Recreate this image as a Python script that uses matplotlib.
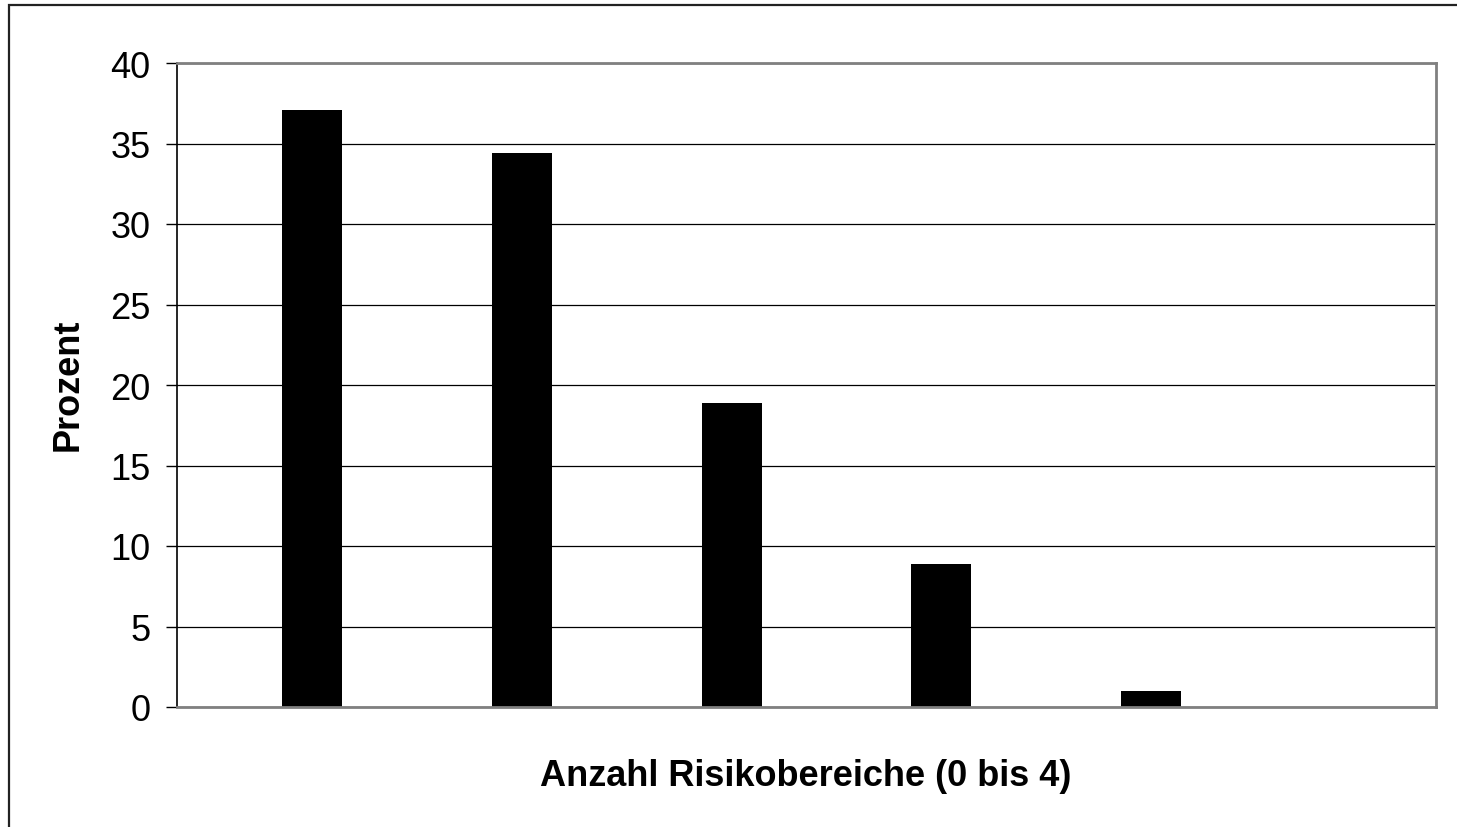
import matplotlib
matplotlib.use('Agg')
import matplotlib.pyplot as plt
from matplotlib.patches import Rectangle

plt.rcParams['font.family'] = ['Liberation Sans', 'DejaVu Sans']

# Anzahl Risikobereiche 0..4 (6th slot empty, as in the original)
categories = [0, 1, 2, 3, 4]
values = [37.1, 34.4, 18.9, 8.9, 1.0]
yticks = [0, 5, 10, 15, 20, 25, 30, 35, 40]

W, H = 1457, 828
fig = plt.figure(figsize=(W / 100, H / 100), dpi=100)

# outer chart border
fig.patches.append(Rectangle((9 / W, -0.01), 1.02, 1 - 6 / H + 0.01,
                             transform=fig.transFigure, fill=False,
                             edgecolor='#222222', linewidth=1.6))

ax = fig.add_axes([177 / W, 1 - 708 / H, (1436 - 177) / W, (708 - 64) / H])

ax.bar(categories, values, width=0.286, align='edge', color='black')

ax.set_xlim(-0.5, 5.5)
ax.set_ylim(0, 40)
ax.set_yticks(yticks)
ax.set_xticks([])
ax.tick_params(axis='y', labelsize=26, length=8, width=1, direction='out', pad=11)

ax.yaxis.grid(True, color='black', linewidth=0.9)
ax.set_axisbelow(True)

ax.spines['left'].set_color('black')
ax.spines['left'].set_linewidth(1.2)
for s in ['right', 'bottom', 'top']:
    ax.spines[s].set_color('#808080')
    ax.spines[s].set_linewidth(2)

fig.text(68 / W, 1 - 385 / H, 'Prozent', rotation=90, fontsize=26,
         fontweight='bold', ha='center', va='center')
fig.text(806 / W, 1 - 777 / H, 'Anzahl Risikobereiche (0 bis 4)', fontsize=26,
         fontweight='bold', ha='center', va='center')

fig.savefig('out.png', dpi=100)
